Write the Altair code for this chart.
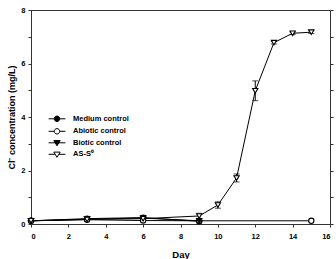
import altair as alt
import pandas as pd

# Series labels and measured Cl- concentrations (mg/L) per sampling day
series_names = ["Medium control", "Abiotic control", "Biotic control", "AS-S⁰"]

medium_days = [0, 3, 6, 9]
medium_vals = [0.12, 0.20, 0.24, 0.10]

abiotic_days = [0, 3, 6, 9, 15]
abiotic_vals = [0.12, 0.16, 0.13, 0.12, 0.12]

biotic_days = [0, 3, 6, 9]
biotic_vals = [0.12, 0.18, 0.22, 0.12]

ass_days = [0, 3, 6, 9, 10, 11, 12, 13, 14, 15]
ass_vals = [0.12, 0.17, 0.20, 0.30, 0.71, 1.72, 4.98, 6.78, 7.13, 7.17]
ass_err = [0.03, 0.04, 0.04, 0.10, 0.12, 0.15, 0.37, 0.05, 0.05, 0.05]

x_ticks = list(range(0, 17, 2))
y_ticks = list(range(0, 9))

rows = []
for name, days, vals, errs in [
    (series_names[0], medium_days, medium_vals, [0] * len(medium_days)),
    (series_names[1], abiotic_days, abiotic_vals, [0] * len(abiotic_days)),
    (series_names[2], biotic_days, biotic_vals, [0] * len(biotic_days)),
    (series_names[3], ass_days, ass_vals, ass_err),
]:
    for d, v, e in zip(days, vals, errs):
        rows.append({"series": name, "day": d, "value": v, "lo": v - e, "hi": v + e})
df = pd.DataFrame(rows)

FONT = "Liberation Sans"

marker_shapes = ["circle", "circle", "triangle-down", "triangle-down"]
marker_fills = ["black", "white", "black", "white"]
marker_strokes = ["black"] * 4

# legend keys: a short line through each marker
key_circle = ("M-2.1,0H-0.68M0.68,0H2.1"
              "M0.68,0A0.68,0.68,0,1,1,-0.68,0A0.68,0.68,0,1,1,0.68,0Z")
key_tri = "M-2.1,0H-0.47M0.47,0H2.1M-0.8,-0.55L0.8,-0.55L0,0.75Z"
legend_shapes = [key_circle, key_circle, key_tri, key_tri]

x_scale = alt.Scale(domain=[0, 16], nice=False)
x_axis = alt.Axis(values=x_ticks, title="Day", format="d", tickCount=9,
                  labelOverlap=False,
                  titleX=149.5, titleY=30, titleBaseline="middle")
x_enc = alt.X("day:Q", scale=x_scale, axis=x_axis)

y_left = alt.Y("value:Q", scale=alt.Scale(domain=[0, 8], nice=False),
               axis=alt.Axis(values=y_ticks, title="Cl⁻ concentration (mg/L)",
                             labelExpr="datum.value % 2 == 0 ? datum.label : ''",
                             labelOverlap=False,
                             titleX=-20, titleY=107, titleBaseline="middle",
                             titleAngle=-90))

base = alt.Chart(df)

lines = base.mark_line(color="black", strokeWidth=1).encode(
    x=x_enc, y=y_left, detail="series:N"
)

# error bars for the AS-S0 series: vertical rule plus two caps
err_src = base.transform_filter(f"datum.series == '{series_names[3]}'")
err_rule = err_src.mark_rule(color="black", strokeWidth=1).encode(
    x=x_enc, y=alt.Y("lo:Q", axis=None), y2="hi:Q"
)
err_cap_lo = err_src.mark_tick(color="black", orient="horizontal",
                               size=6, thickness=1).encode(
    x=x_enc, y=alt.Y("lo:Q", axis=None)
)
err_cap_hi = err_src.mark_tick(color="black", orient="horizontal",
                               size=6, thickness=1).encode(
    x=x_enc, y=alt.Y("hi:Q", axis=None)
)

points = base.mark_point(filled=False, stroke="black", strokeWidth=1.1,
                         opacity=1, size=28).encode(
    x=x_enc,
    y=alt.Y("value:Q", axis=None),
    shape=alt.Shape("series:N", scale=alt.Scale(domain=series_names,
                                                range=marker_shapes), legend=None),
    fill=alt.Fill("series:N", scale=alt.Scale(domain=series_names,
                                              range=marker_fills), legend=None),
)

key_legend = alt.Legend(
    title=None, orient="none", legendX=21.5, legendY=104.3,
    symbolSize=64, symbolStrokeWidth=1,
    labelOffset=11.5, rowPadding=1.5, padding=0,
    labelFont=FONT, labelFontSize=7.5, labelFontWeight="bold",
    labelColor="black", labelLimit=200,
)

# empty layer that carries the legend and the right-hand tick axis
legend_layer = base.transform_filter("false").mark_point(
    filled=False, strokeWidth=1, opacity=1
).encode(
    x=x_enc,
    y=alt.Y("value:Q", axis=alt.Axis(orient="right", values=y_ticks,
                                     labels=False, title=None, domain=False)),
    shape=alt.Shape("series:N", scale=alt.Scale(domain=series_names,
                                                range=legend_shapes),
                    legend=key_legend),
    fill=alt.Fill("series:N", scale=alt.Scale(domain=series_names,
                                              range=marker_fills),
                  legend=key_legend),
    stroke=alt.Stroke("series:N", scale=alt.Scale(domain=series_names,
                                                  range=marker_strokes),
                      legend=key_legend),
)

chart = alt.layer(
    lines, err_rule, err_cap_lo, err_cap_hi, points, legend_layer
).resolve_scale(
    shape="independent", fill="independent", stroke="independent"
).resolve_axis(
    y="independent"
).properties(
    width=299, height=214, autosize="none",
    padding={"left": 31, "top": 10, "right": 6, "bottom": 35},
    background="white",
).configure_view(
    stroke="#333333", strokeWidth=1
).configure_axis(
    labelFont=FONT, labelFontSize=7.5, labelFontWeight="bold", labelColor="black",
    titleFont=FONT, titleFontWeight="bold", titleColor="black",
    tickSize=3, tickColor="#333333", domainColor="#333333",
    grid=False,
).configure_axisX(
    labelPadding=5, titleFontSize=9.5,
).configure_axisY(
    labelPadding=3, titleFontSize=9,
)

chart.save("out.html", embed_options={"renderer": "svg", "actions": False})
